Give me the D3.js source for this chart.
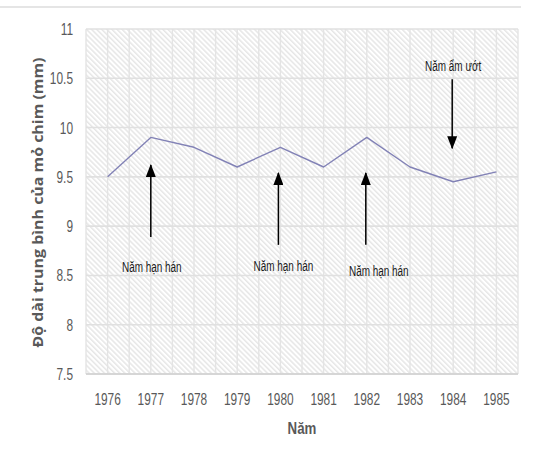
<!DOCTYPE html>
<html>
<head>
<meta charset="utf-8">
<script src="https://cdn.jsdelivr.net/npm/d3@7"></script>
<style>
  html, body { margin: 0; padding: 0; background: #fff; }
  svg { display: block; }
</style>
</head>
<body>
<script>
// ---- data ----
const years = [1976, 1977, 1978, 1979, 1980, 1981, 1982, 1983, 1984, 1985];
const beakLength = [9.5, 9.9, 9.8, 9.6, 9.8, 9.6, 9.9, 9.6, 9.45, 9.55];
const yTicks = [7.5, 8, 8.5, 9, 9.5, 10, 10.5, 11];
const yLabels = ["7.5", "8", "8.5", "9", "9.5", "10", "10.5", "11"];
const yTitle = "Độ dài trung bình của mỏ chim (mm)";
const xTitle = "Năm";
// annotations: year, label, arrow tail value, arrow head value, label value
const annYears = [1977, 1980, 1982, 1984];
const annLabels = ["Năm hạn hán", "Năm hạn hán", "Năm hạn hán", "Năm ẩm ướt"];
const annFrom = [8.89, 8.81, 8.81, 10.49];
const annTo = [9.62, 9.54, 9.54, 9.79];
const annLabelAt = [8.58, 8.59, 8.54, 10.62];
const annShift = [0, -2, -1, -1];        // small horizontal nudges (px) of arrows
const annLabelShift = [1, 3, 12, 0];     // small horizontal nudges (px) of labels

const W = 556, H = 459;
const plot = { left: 86, right: 518, top: 29, bottom: 374 };

const svg = d3.select("body").append("svg").attr("width", W).attr("height", H);

const x = d3.scaleBand().domain(years).range([plot.left, plot.right]).padding(0);
const y = d3.scaleLinear().domain([7.5, 11]).range([plot.bottom, plot.top]);
const cx = d => x(d) + x.bandwidth() / 2;

// squeeze text horizontally to imitate a condensed face
function condense(sel, factor) {
  sel.each(function () {
    const w = this.getComputedTextLength();
    d3.select(this).attr("textLength", w * factor).attr("lengthAdjust", "spacingAndGlyphs");
  });
}

const defs = svg.append("defs");
const pat = defs.append("pattern")
  .attr("id", "hatch").attr("patternUnits", "userSpaceOnUse")
  .attr("width", 3.6).attr("height", 3.6)
  .attr("patternTransform", "rotate(-45)");
pat.append("rect").attr("width", 3.6).attr("height", 3.6).attr("fill", "#ffffff");
pat.append("line").attr("x1", 0.8).attr("y1", 0).attr("x2", 0.8).attr("y2", 3.6)
  .attr("stroke", "#dadada").attr("stroke-width", 1.0);

defs.append("marker").attr("id", "ah")
  .attr("markerUnits", "userSpaceOnUse")
  .attr("viewBox", "0 0 13 10")
  .attr("refX", 12).attr("refY", 5)
  .attr("markerWidth", 13).attr("markerHeight", 10)
  .attr("orient", "auto")
  .append("path").attr("d", "M0,0 L13,5 L0,10 Z").attr("fill", "#000");

// top separator line
svg.append("line").attr("x1", 0).attr("x2", 521).attr("y1", 7).attr("y2", 7)
  .attr("stroke", "#dcdcdc").attr("stroke-width", 1.5);

// plot background hatch
svg.append("rect")
  .attr("x", plot.left).attr("y", plot.top)
  .attr("width", plot.right - plot.left).attr("height", plot.bottom - plot.top)
  .attr("fill", "url(#hatch)");

// vertical gridlines at band edges and centres
const vLines = [];
years.forEach(d => { vLines.push(x(d)); vLines.push(cx(d)); });
vLines.push(plot.right);
svg.append("g").selectAll("line").data(vLines).join("line")
  .attr("x1", d => d).attr("x2", d => d)
  .attr("y1", plot.top).attr("y2", plot.bottom)
  .attr("stroke", "#e4e4e4").attr("stroke-width", 1.4);

// horizontal gridlines
svg.append("g").selectAll("line").data(yTicks).join("line")
  .attr("x1", plot.left).attr("x2", plot.right)
  .attr("y1", d => y(d)).attr("y2", d => y(d))
  .attr("stroke", "#e0e0e0").attr("stroke-width", 1.6);

// bottom axis line
svg.append("line").attr("x1", plot.left).attr("x2", plot.right)
  .attr("y1", y(7.5)).attr("y2", y(7.5))
  .attr("stroke", "#d0d0d0").attr("stroke-width", 1.6);

const tickFont = "'Liberation Sans', Arial, sans-serif";

// y tick labels
svg.append("g").selectAll("text").data(yTicks).join("text")
  .attr("x", 73).attr("y", d => y(d)).attr("dy", "0.36em")
  .attr("text-anchor", "end")
  .attr("font-family", tickFont).attr("font-size", 16.5)
  .attr("fill", "#595959")
  .text((d, i) => yLabels[i])
  .call(condense, 0.72);

// x tick labels
svg.append("g").selectAll("text").data(years).join("text")
  .attr("x", d => cx(d)).attr("y", 399).attr("dy", "0.36em")
  .attr("text-anchor", "middle")
  .attr("font-family", tickFont).attr("font-size", 16.5)
  .attr("fill", "#595959")
  .text(d => d)
  .call(condense, 0.72);

// axis titles
svg.append("text")
  .attr("transform", `translate(38,${(57 + 348) / 2}) rotate(-90)`)
  .attr("text-anchor", "middle").attr("dy", "0.35em")
  .attr("font-family", "'Open Sans', sans-serif").attr("font-weight", "bold")
  .attr("font-size", 14.5).attr("fill", "#595959")
  .attr("textLength", 290).attr("lengthAdjust", "spacingAndGlyphs")
  .text(yTitle);

svg.append("text")
  .attr("x", (plot.left + plot.right) / 2).attr("y", 428).attr("dy", "0.35em")
  .attr("text-anchor", "middle")
  .attr("font-family", tickFont).attr("font-weight", "bold")
  .attr("font-size", 17).attr("fill", "#595959")
  .text(xTitle)
  .call(condense, 0.78);

// data line
const line = d3.line().x((d, i) => cx(years[i])).y(d => y(d));
svg.append("path").datum(beakLength)
  .attr("d", line)
  .attr("fill", "none").attr("stroke", "#8282b6").attr("stroke-width", 1.4)
  .attr("stroke-linejoin", "round");

// annotation arrows
svg.append("g").selectAll("line").data(annYears).join("line")
  .attr("x1", (d, i) => cx(d) + annShift[i]).attr("x2", (d, i) => cx(d) + annShift[i])
  .attr("y1", (d, i) => y(annFrom[i])).attr("y2", (d, i) => y(annTo[i]))
  .attr("stroke", "#000").attr("stroke-width", 1.5)
  .attr("marker-end", "url(#ah)");

// annotation labels
svg.append("g").selectAll("text").data(annYears).join("text")
  .attr("x", (d, i) => cx(d) + annLabelShift[i]).attr("y", (d, i) => y(annLabelAt[i]))
  .attr("dy", "0.35em").attr("text-anchor", "middle")
  .attr("font-family", tickFont).attr("font-size", 14)
  .attr("fill", "#1a1a1a")
  .text((d, i) => annLabels[i])
  .call(condense, 0.71);
</script>
</body>
</html>
